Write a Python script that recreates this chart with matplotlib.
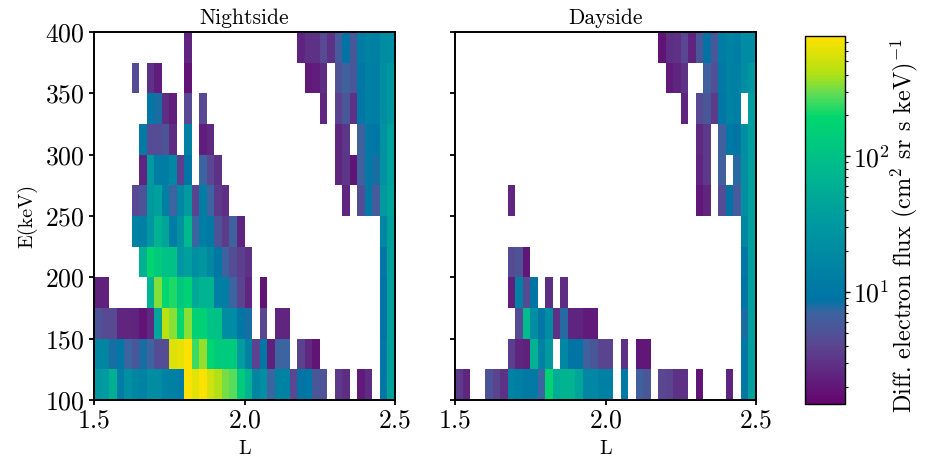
import numpy as np
import matplotlib
matplotlib.use("Agg")
import matplotlib.pyplot as plt
from matplotlib.colors import LinearSegmentedColormap, LogNorm

plt.rcParams['font.family'] = ['cmr10', 'DejaVu Serif']
plt.rcParams['mathtext.fontset'] = 'cm'
plt.rcParams['axes.formatter.use_mathtext'] = True

_ = np.nan

# L and energy bin edges
L_edges = np.linspace(1.5, 2.5, 41)
E_edges = np.arange(100, 401, 25)

# flux per energy row (bottom row first), one value per L bin
night_100 = [30,35,60,12,22,16,15,20,20,15,14,12,750,600,750,520,400,320,280,130,70,16,22,7,15,15,4,9,10,5.5,5,_,3.3,2.8,_,2.1,2.7,_,10,40]
night_125 = [16,16,8,10,7,5.5,8,7,4.5,4.5,570,620,750,250,360,190,130,130,130,35,15,3.8,10,2.3,7,7,_,3.7,2.6,1.9,_,_,_,_,_,_,_,_,10,40]
night_150 = [5,4.2,4.2,2.5,2.5,2.4,1.9,2.6,45,430,340,190,340,160,165,100,100,20,20,10,8,_,4,_,2.5,2.5,_,_,_,_,_,_,_,_,_,_,_,_,9,40]
night_175 = [2.3,2.3,_,_,_,_,_,70,330,190,220,120,160,50,70,70,13,13,7,3.8,2.5,_,1.9,_,_,_,_,_,_,_,_,_,_,_,_,_,_,_,9,40]
night_200 = [_,_,_,_,_,_,60,190,130,100,100,28,38,22,28,18,10,6.5,4.5,3.6,2.9,_,_,_,_,_,_,_,_,_,_,_,_,_,_,_,_,_,10,40]
night_225 = [_,_,_,_,_,15,14,28,65,45,12,24,80,7,12,11,5,3.4,6.5,2.4,_,_,_,_,_,_,_,_,_,_,_,_,_,_,_,_,_,_,16,40]
night_250 = [_,_,_,_,_,4.2,5.2,32,40,13,7,17,32,3.8,12,7,3.3,2.8,_,_,_,_,_,_,_,_,_,_,_,_,_,_,_,2.5,_,4.5,11,6,32,45]
night_275 = [_,_,_,_,_,_,2.4,32,12,12,17,3.6,9,_,7,4,3,_,_,_,_,_,_,_,_,_,_,_,_,_,_,_,2.5,3.2,1.9,6.5,11,8,25,40]
night_300 = [_,_,_,_,_,_,11,4.6,4.6,5,2.7,_,14,_,2.2,2.6,_,_,_,_,_,_,_,_,_,_,_,_,_,_,_,_,2.5,3.2,_,6.5,11,10,25,40]
night_325 = [_,_,_,_,_,_,_,10,8,2.8,2.2,_,4.2,_,4.2,_,_,_,_,_,_,_,_,_,_,_,_,_,_,_,2.5,_,3.7,5.5,3,10,14,13,22,30]
night_350 = [_,_,_,_,_,4.5,_,3,2.2,_,_,_,1.9,_,_,_,_,_,_,_,_,_,_,_,_,_,_,_,2.1,2.2,2.8,_,5,6.5,5.5,10,14,13,22,30]
night_375 = [_,_,_,_,_,_,_,_,_,_,_,_,2.4,_,_,_,_,_,_,_,_,_,_,_,_,_,_,2.4,3,3,4.2,3,6,8.5,5.5,12,15,14,20,22]

day_100 = [3.3,2.5,_,_,5.2,3.9,3,15,13,11,11,7,160,55,70,70,45,17,17,14,14,_,11,_,6.5,5.5,_,4,3.8,3,3,_,1.9,_,_,_,2.4,_,10,40]
day_125 = [_,_,_,_,_,_,_,3.6,2.5,2.3,65,15,32,_,17,9,9,6.5,5.5,3.9,3.9,_,3,_,2,2,_,_,_,_,_,_,_,_,_,_,_,_,10,40]
day_150 = [_,_,_,_,_,_,_,_,4.5,85,22,10,20,3,7.5,2.4,2.4,2.1,2.1,_,_,_,_,_,_,_,_,_,_,_,_,_,_,_,_,_,_,_,8,40]
day_175 = [_,_,_,_,_,_,_,2.2,14,4.3,9,_,2.8,_,2.7,_,_,_,_,_,_,_,_,_,_,_,_,_,_,_,_,_,_,_,_,_,_,_,9,40]
day_200 = [_,_,_,_,_,_,_,4.4,5,2,_,_,_,_,_,_,_,_,_,_,_,_,_,_,_,_,_,_,_,_,_,_,_,_,_,_,_,_,10,40]
day_225 = [_,_,_,_,_,_,_,_,_,_,_,_,_,_,_,_,_,_,_,_,_,_,_,_,_,_,_,_,_,_,_,_,_,_,_,_,_,_,16,40]
day_250 = [_,_,_,_,_,_,_,2.5,_,_,_,_,_,_,_,_,_,_,_,_,_,_,_,_,_,_,_,_,_,_,_,_,2,2.5,_,4.5,8.5,6,22,40]
day_275 = [_,_,_,_,_,_,_,_,_,_,_,_,_,_,_,_,_,_,_,_,_,_,_,_,_,_,_,_,_,_,_,_,2.4,3.3,_,6.5,_,7.5,22,40]
day_300 = [_,_,_,_,_,_,_,_,_,_,_,_,_,_,_,_,_,_,_,_,_,_,_,_,_,_,_,_,_,_,_,_,2.6,3.3,_,6.5,11,9.5,22,38]
day_325 = [_,_,_,_,_,_,_,_,_,_,_,_,_,_,_,_,_,_,_,_,_,_,_,_,_,_,_,_,_,_,2.4,_,4.2,5.5,3.4,10,15,13,_,38]
day_350 = [_,_,_,_,_,_,_,_,_,_,_,_,_,_,_,_,_,_,_,_,_,_,_,_,_,_,_,_,2.1,2.4,2.9,_,_,6.5,4.8,11,15,14,21,30]
day_375 = [_,_,_,_,_,_,_,_,_,_,_,_,_,_,_,_,_,_,_,_,_,_,_,_,_,_,_,1.9,2.8,2.9,4,2.4,5.5,8.5,5.5,12,15,13,20,20]

night = np.array([night_100, night_125, night_150, night_175, night_200, night_225,
                  night_250, night_275, night_300, night_325, night_350, night_375])
day = np.array([day_100, day_125, day_150, day_175, day_200, day_225,
                day_250, day_275, day_300, day_325, day_350, day_375])

stops = [(0.0, (100, 5, 110)), (0.157, (90, 70, 145)), (0.247, (60, 100, 160)),
         (0.28, (0, 115, 165)), (0.5, (0, 155, 160)), (0.65, (0, 188, 140)),
         (0.78, (0, 215, 110)), (0.84, (90, 220, 90)), (0.9, (180, 225, 20)), (1.0, (255, 225, 0))]
cmap = LinearSegmentedColormap.from_list(
    'flux', [(f, tuple(c / 255 for c in col)) for f, col in stops], N=256)
norm = LogNorm(vmin=1.5, vmax=770)

W, H = 928, 461
def box(x0, y0, x1, y1):
    return [x0 / W, 1 - y1 / H, (x1 - x0) / W, (y1 - y0) / H]

fig = plt.figure(figsize=(W / 100, H / 100), dpi=100)
ax1 = fig.add_axes(box(94, 32, 395, 400))
ax2 = fig.add_axes(box(455, 32, 756, 400))
cax = fig.add_axes(box(805, 36, 845, 403.5))

for ax, data, title in [(ax1, night, 'Nightside'), (ax2, day, 'Dayside')]:
    mesh = ax.pcolormesh(L_edges, E_edges, data, cmap=cmap, norm=norm, antialiased=False, linewidth=0)
    ax.set_xlim(1.5, 2.5)
    ax.set_ylim(100, 400)
    ax.set_xticks([1.5, 2.0, 2.5])
    ax.set_yticks(np.arange(100, 401, 50))
    ax.tick_params(labelsize=18.5, width=1.3, length=3.5, pad=3)
    ax.set_xlabel('L', fontsize=14.5, labelpad=5)
    ax.set_title(title, fontsize=15.5, pad=6)
    for s in ax.spines.values():
        s.set_linewidth(1.4)

ax1.set_ylabel('E(keV)', fontsize=14.5, labelpad=6)
ax2.tick_params(labelleft=False)

cb = fig.colorbar(mesh, cax=cax)
cb.set_label(r'Diff. electron flux (cm$^2$ sr s keV)$^{-1}$', fontsize=17.5, labelpad=-1, y=0.485)
cb.ax.tick_params(which='major', labelsize=18.5, width=1, length=3.5, pad=2)
cb.ax.tick_params(which='minor', width=0.8, length=2.5)
cb.outline.set_linewidth(1)

fig.savefig('out.png', dpi=100)
